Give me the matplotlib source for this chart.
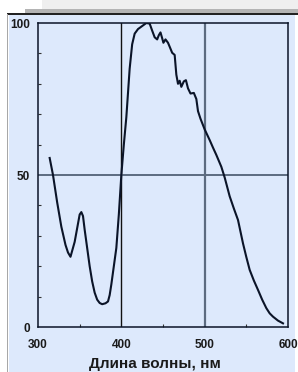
import matplotlib
matplotlib.use("Agg")
import matplotlib.pyplot as plt
from matplotlib.patches import Rectangle
from matplotlib.ticker import MultipleLocator

# Спектр: длина волны (нм) и относительная интенсивность (%)
wavelength = [314, 318, 323, 328, 333, 336, 339, 344, 348, 350, 352, 354, 356,
              359, 362, 365, 368, 371, 374, 377, 381, 384, 386, 388, 391, 394,
              397, 400, 403, 406, 410, 413, 416, 420, 425, 430, 434, 437, 440,
              443, 445, 447, 449, 450.5, 453, 456, 458, 461, 464, 466, 468, 470,
              472, 475, 477.5, 480, 483, 487, 490, 492, 495, 500, 506, 510, 514,
              520, 524, 530, 535, 540, 546, 550, 554, 559, 564, 569, 574, 578,
              582, 588, 594]
intensity = [55.6, 50, 41, 33, 27, 24.5, 23.1, 28, 34, 37, 37.8, 36.5, 32,
             26, 20, 15, 11.3, 9, 7.9, 7.5, 7.8, 8.4, 10.5, 14, 20, 26,
             37, 50, 60, 69, 85, 93, 96.5, 98, 99, 100, 99.8, 97.5, 95.3,
             94.6, 96, 96.9, 95, 93.5, 94.6, 93.5, 92.2, 90.2, 89.5, 83, 80, 81,
             79, 80.8, 81.2, 78.5, 76.8, 77, 75, 71, 68.5, 65, 61.5, 59, 56.6,
             52.7, 49.2, 43, 39, 35.2, 27.5, 23, 18.8, 15.3, 12.2, 9, 6.2, 4.5,
             3.4, 2.1, 1.2]

x_ticks = [300, 400, 500, 600]
y_ticks = [0, 50, 100]
x_label = "Длина волны, нм"

bg = "#dde9fc"
plt.rcParams["font.family"] = ["Liberation Sans", "DejaVu Sans"]

fig = plt.figure(figsize=(2.98, 3.72), dpi=100)
fig.patch.set_facecolor("white")

# рамка и полосы сверху
W, H = 298, 372
fig.patches.append(Rectangle((9 / W, 0), 286 / W, 358 / H, transform=fig.transFigure,
                             facecolor=bg, edgecolor="none", zorder=-5))
fig.patches.append(Rectangle((42 / W, 363 / H), 256 / W, 9 / H, transform=fig.transFigure,
                             facecolor="#efefef", edgecolor="none", zorder=-5))
fig.patches.append(Rectangle((25 / W, 359 / H), 273 / W, 4 / H, transform=fig.transFigure,
                             facecolor="#b4b4b4", edgecolor="none", zorder=-5))
fig.patches.append(Rectangle((7 / W, 357.5 / H), 291 / W, 1.5 / H, transform=fig.transFigure,
                             facecolor="#222222", edgecolor="none", zorder=-5))
fig.patches.append(Rectangle((7 / W, 0), 1.2 / W, 358 / H, transform=fig.transFigure,
                             facecolor="#a8a8a8", edgecolor="none", zorder=-5))

ax = fig.add_axes([38 / W, 45 / H, 250 / W, 304 / H])
ax.set_zorder(2)
ax.set_facecolor(bg)

ax.axvline(400, color="#111111", linewidth=1.0, zorder=1)
ax.axvline(500, color="#5c6b80", linewidth=1.6, zorder=1)
ax.axhline(50, color="#5c6b80", linewidth=1.4, zorder=1)

ax.plot(wavelength, intensity, color="#0b1428", linewidth=1.5, zorder=3)

ax.set_xlim(300, 600)
ax.set_ylim(0, 100)
ax.set_xticks(x_ticks)
ax.set_yticks(y_ticks)
ax.xaxis.set_minor_locator(MultipleLocator(50))
ax.yaxis.set_minor_locator(MultipleLocator(10))
ax.tick_params(which="both", direction="in", color="#333333")
ax.tick_params(which="major", length=0)
ax.tick_params(which="minor", length=2.5, width=0.8)
ax.tick_params(axis="x", which="major", pad=9, labelsize=8.5, labelcolor="#1a1a1a")
ax.tick_params(axis="y", which="major", pad=6, labelsize=8.5, labelcolor="#1a1a1a")
for lab in ax.get_xticklabels() + ax.get_yticklabels():
    lab.set_fontweight("bold")

for side in ["left", "bottom", "top", "right"]:
    ax.spines[side].set_color("#0b1428")
    ax.spines[side].set_linewidth(1.1)

fig.text(155 / W, 1 / H, x_label, ha="center", va="bottom",
         fontsize=11, fontweight="bold", color="#1a1a1a")

plt.savefig("out.png", dpi=100)
plt.close()
